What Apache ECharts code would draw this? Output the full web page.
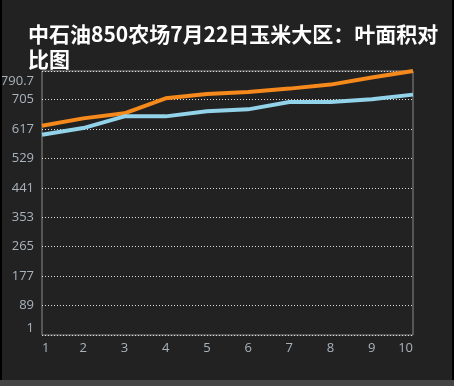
<!DOCTYPE html>
<html>
<head>
<meta charset="utf-8">
<script src="https://cdn.jsdelivr.net/npm/echarts@6/dist/echarts.min.js"></script>
<style>
html,body{margin:0;padding:0;background:#444;}
#wrap{width:450px;height:380px;background:#222;border-left:2px solid #000;border-right:2px solid #000;}
#chart{width:450px;height:380px;}
</style>
</head>
<body>
<div id="wrap"><div id="chart"></div></div>
<script>
var titleText = '中石油850农场7月22日玉米大区：叶面积对比图';
var categories = ['1','2','3','4','5','6','7','8','9','10'];
var seriesOrange = [627, 649, 664, 709, 722, 728, 738, 750, 771, 790.7];
var seriesBlue = [600, 620, 655, 655, 670, 676, 698, 698, 706, 720];
var yMin = 1, yMax = 790.7, yStep = 88;

var chart = echarts.init(document.getElementById('chart'));
chart.setOption({
  backgroundColor: '#222',
  animation: false,
  title: {
    text: titleText,
    left: 21, top: 17,
    textStyle: {
      color: '#fff', fontSize: 21, fontWeight: 'bold',
      fontFamily: 'Noto Sans CJK SC', lineHeight: 25,
      width: 420, overflow: 'break'
    }
  },
  grid: {
    left: 40, right: 39, top: 71, bottom: 45,
    outerBoundsMode: 'none',
    show: true, borderColor: '#8a8a8a', borderWidth: 1, backgroundColor: 'transparent'
  },
  xAxis: {
    type: 'category', data: categories, boundaryGap: false,
    axisLine: {show: false}, axisTick: {show: false},
    axisLabel: {color: '#a9b3bd', fontSize: 13, fontFamily: 'Open Sans', margin: 7, alignMinLabel: 'left', alignMaxLabel: 'right'},
    splitLine: {show: false}
  },
  yAxis: {
    type: 'value', min: yMin, max: yMax, interval: yStep,
    axisLine: {show: false}, axisTick: {show: false},
    axisLabel: {color: '#a9b3bd', fontSize: 13, fontFamily: 'Open Sans', margin: 8, showMaxLabel: true, showMinLabel: true,
      overflow: 'none', padding: [4, 0, 0, 0],
      verticalAlignMaxLabel: 'top', verticalAlignMinLabel: 'bottom'},
    splitLine: {show: true, lineStyle: {color: '#ddd', type: [1, 2], width: 1}}
  },
  series: [
    {type: 'line', data: seriesOrange, showSymbol: false, lineStyle: {color: '#f5891c', width: 4}, itemStyle: {color: '#f5891c'}},
    {type: 'line', data: seriesBlue, showSymbol: false, lineStyle: {color: '#92d3ea', width: 4}, itemStyle: {color: '#92d3ea'}}
  ]
});
</script>
</body>
</html>
